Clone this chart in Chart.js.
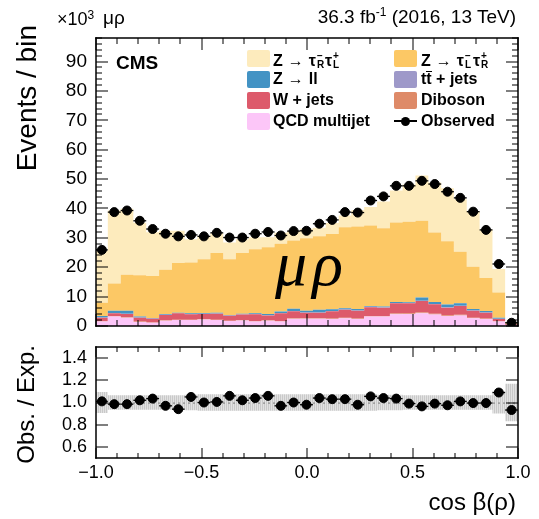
<!DOCTYPE html>
<html>
<head>
<meta charset="utf-8">
<script src="https://cdn.jsdelivr.net/npm/chart.js@4.4.0/dist/chart.umd.min.js"></script>
<style>
  body { margin: 0; width: 539px; height: 519px; position: relative; background: #fff; overflow: hidden;
         font-family: "Liberation Sans", Arial, sans-serif; color: #000; }
  canvas { position: absolute; left: 0; }
  #main { top: 0; }
  #ratio { top: 340px; }
  .t { position: absolute; white-space: nowrap; line-height: 1; }
  .vt { position: absolute; white-space: nowrap; line-height: 1; writing-mode: vertical-rl; transform: rotate(180deg); }
  .box { position: absolute; width: 23px; height: 17px; border-radius: 2px; }
  .lab { position: absolute; white-space: nowrap; font-weight: bold; font-size: 16px; line-height: 16px; }
  .ss { display: inline-block; position: relative; width: 9px; height: 16px; }
  .ss span { position: absolute; left: 1px; font-size: 10px; line-height: 10px; }
  .ss .sp { top: 1px; }
  .ss .sb { top: 10px; }
  .arr { font-weight: normal; margin: 0 5px; }
  .bar { position: relative; }
  .bar i { position: absolute; left: 0; right: 0; top: 1px; border-top: 1.5px solid #000; }
</style>
</head>
<body>
<canvas id="main" width="539" height="340"></canvas>
<canvas id="ratio" width="539" height="179"></canvas>

<div class="t" style="left:57px;top:9px;font-size:18px">×10<sup style="font-size:12px;vertical-align:6px">3</sup></div>
<div class="t" style="left:103px;top:8px;font-size:19px">μρ</div>
<div class="t" style="right:23px;top:6px;font-size:19px">36.3 fb<sup style="font-size:12px;vertical-align:7px">-1</sup> (2016, 13 TeV)</div>
<div class="t" style="left:116px;top:53px;font-size:19px;font-weight:bold">CMS</div>
<div class="t" style="left:275px;top:232px;font-size:64px;font-style:italic;letter-spacing:5px;font-family:'Liberation Serif',serif">μρ</div>
<div class="vt" style="left:13px;top:25px;font-size:28px">Events / bin</div>
<div class="vt" style="left:14px;top:345px;font-size:24px">Obs. / Exp.</div>
<div class="t" style="right:23px;top:490px;font-size:24px">cos β(ρ)</div>

<div id="legend"></div>

<script>
// bin edges of cos beta(rho)
const edges = [-1, -0.944, -0.883, -0.823, -0.762, -0.701, -0.640, -0.580, -0.519, -0.458, -0.397,
  -0.337, -0.276, -0.215, -0.154, -0.094, -0.033, 0.028, 0.089, 0.150, 0.210, 0.271, 0.332,
  0.393, 0.453, 0.514, 0.575, 0.636, 0.696, 0.757, 0.818, 0.879, 0.939, 1.0]

// events per bin, in units of 10^3
const qcd = [1.5, 3.2, 2.8, 1.4, 1.1, 1.8, 2.0, 2.0, 2.2, 2.0, 1.7, 1.9, 1.5, 1.8, 1.5, 2.5, 2.5,
  2.5, 2.4, 2.6, 2.4, 3.2, 3.2, 4.0, 4.1, 4.3, 3.9, 3.4, 3.6, 2.6, 2.4, 1.5, 0.3]
const diboson = [0.1, 0.15, 0.15, 0.1, 0.1, 0.12, 0.15, 0.15, 0.15, 0.15, 0.12, 0.14, 0.15, 0.14,
  0.15, 0.18, 0.17, 0.17, 0.18, 0.2, 0.19, 0.22, 0.22, 0.26, 0.26, 0.28, 0.25, 0.22, 0.23, 0.18,
  0.16, 0.1, 0.02]
const wjets = [1.2, 0.95, 1.15, 1.3, 1.3, 1.83, 2.15, 1.85, 1.75, 2.05, 1.68, 1.86, 2.35, 1.66,
  2.65, 2.32, 1.83, 1.83, 2.42, 2.7, 2.61, 2.98, 2.83, 3.44, 3.34, 3.92, 3.25, 2.63, 2.97, 2.42,
  1.94, 0.8, 0.28]
const ttbar = [0.05, 0.08, 0.08, 0.06, 0.05, 0.07, 0.08, 0.08, 0.08, 0.08, 0.07, 0.08, 0.08, 0.08,
  0.09, 0.1, 0.09, 0.09, 0.1, 0.1, 0.1, 0.11, 0.11, 0.12, 0.12, 0.13, 0.12, 0.11, 0.11, 0.09,
  0.08, 0.05, 0.01]
const zll = [0.55, 0.82, 1.02, 0.34, 0.15, 0.28, 0.12, 0.22, 0.22, 0.22, 0.18, 0.22, 0.22, 0.42,
  0.51, 0.8, 0.61, 0.91, 0.6, 0.4, 0.5, 0.29, 0.24, 0.38, 0.28, 1.07, 0.68, 0.94, 0.79, 0.51,
  0.52, 0.35, 0.09]
const ztauLR = [4.55, 9.3, 12.2, 14.1, 14.3, 15.0, 16.9, 17.3, 18.3, 20.3, 18.95, 20.6, 21.8, 22.7,
  23.1, 23.2, 24.7, 25.0, 25.6, 27.6, 28.1, 27.4, 26.7, 27.0, 27.4, 26.1, 23.6, 21.5, 17.6, 14.4,
  11.2, 8.6, 0.2]
const ztauRL = [17.69, 24.84, 22.5, 17.8, 14.88, 13.27, 11.05, 7.92, 7.8, 6.74, 5.7, 4.71, 4.09,
  3.39, 3.75, 3.2, 3.16, 2.96, 3.75, 4.02, 5.49, 6.27, 9.1, 10.89, 12.68, 15.39, 16.99, 18.07,
  17.87, 18.9, 16.56, 7.96, 0.28]
const observed = [25.9, 38.75, 39.3, 35.8, 33.0, 31.4, 30.5, 31.0, 30.5, 31.7, 30.1, 30.1, 31.4,
  32.0, 30.8, 32.3, 32.4, 34.8, 36.1, 38.75, 38.6, 42.7, 44.1, 47.7, 47.7, 49.4, 48.3, 45.7, 43.6,
  38.9, 32.7, 21.1, 1.1]
// relative uncertainty of the expectation (ratio band)
const bandErr = [0.095, 0.065, 0.065, 0.065, 0.065, 0.065, 0.065, 0.07, 0.075, 0.075, 0.075, 0.075,
  0.075, 0.075, 0.075, 0.075, 0.075, 0.075, 0.075, 0.075, 0.075, 0.075, 0.07, 0.07, 0.065, 0.065,
  0.065, 0.065, 0.065, 0.065, 0.065, 0.1, 0.17]

// axis ticks
const xLabels = [-1, -0.5, 0, 0.5, 1]
const yLabels = [0, 10, 20, 30, 40, 50, 60, 70, 80, 90]
const rLabels = [0.6, 0.8, 1.0, 1.2, 1.4]

const FONT = '"Liberation Sans", Arial, sans-serif'

// stack order, bottom to top
const stack = [
  { label: 'QCD multijet', values: qcd, color: '#fcc6f8' },
  { label: 'Diboson', values: diboson, color: '#de8a68' },
  { label: 'W + jets', values: wjets, color: '#dd5a6b' },
  { label: 'tt + jets', values: ttbar, color: '#9e99c9' },
  { label: 'Z -> ll', values: zll, color: '#4393c4' },
  { label: 'Z -> tauL tauR', values: ztauLR, color: '#fcc865' },
  { label: 'Z -> tauR tauL', values: ztauRL, color: '#fdebbd' }
]

const nBins = observed.length
const centers = observed.map((v, i) => (edges[i] + edges[i + 1]) / 2)
const total = observed.map((v, i) => stack.reduce((s, c) => s + c.values[i], 0))
const ratio = observed.map((v, i) => v / total[i])
const obsErr = observed.map(v => Math.sqrt(v * 1000) / 1000)
const ratioErr = obsErr.map((e, i) => e / total[i])

// histogram outline as points on the edges, drawn with stepped lines
function histPoints(vals) {
  return edges.map((e, i) => ({ x: e, y: vals[Math.min(i, nBins - 1)] }))
}

function minorTicks(min, max, step, skip) {
  const out = []
  for (let v = min; v <= max + 1e-9; v += step) {
    const r = Math.round(v * 1000) / 1000
    if (!skip.some(s => Math.abs(s - r) < 1e-6)) out.push(r)
  }
  return out
}

// error bars, a dashed reference line, inward ROOT style ticks and the frame.
// everything is filled as thin rectangles placed through the chart scales.
function decorations(cfg) {
  const hLine = (ctx, x0, x1, py, w) => ctx.fillRect(Math.min(x0, x1), py - w / 2, Math.abs(x1 - x0), w)
  const vLine = (ctx, px, y0, y1, w) => ctx.fillRect(px - w / 2, Math.min(y0, y1), w, Math.abs(y1 - y0))
  return {
    id: 'decorations',
    afterDatasetDraw(chart, args) {
      if (cfg.unity === undefined || args.index !== cfg.unityAfter) return
      const { ctx, chartArea: a } = chart
      const py = Math.round(chart.scales.y.getPixelForValue(cfg.unity))
      ctx.save()
      ctx.fillStyle = '#8c8c8c'
      for (let px = a.left + 2; px < a.right - 2; px += 5) ctx.fillRect(px, py - 0.5, 2, 1.2)
      ctx.restore()
    },
    afterDatasetsDraw(chart) {
      const { ctx, chartArea: a } = chart
      const x = chart.scales.x
      const y = chart.scales.y
      ctx.save()
      ctx.fillStyle = '#000'
      cfg.values.forEach((v, i) => {
        const py = y.getPixelForValue(v)
        hLine(ctx, x.getPixelForValue(edges[i]), x.getPixelForValue(edges[i + 1]), py, 1.3)
        vLine(ctx, x.getPixelForValue(centers[i]), y.getPixelForValue(v - cfg.errors[i]),
          y.getPixelForValue(v + cfg.errors[i]), 1.3)
      })
      const xt = (list, len) => list.forEach(v => {
        const p = Math.round(x.getPixelForValue(v))
        ctx.fillRect(p - 0.5, a.bottom - len, 1, len)
        ctx.fillRect(p - 0.5, a.top, 1, len)
      })
      const yt = (list, len) => list.forEach(v => {
        const p = Math.round(y.getPixelForValue(v))
        ctx.fillRect(a.left, p - 0.5, len, 1)
        ctx.fillRect(a.right - len, p - 0.5, len, 1)
      })
      xt(cfg.xMajor, cfg.xMajorLen)
      xt(cfg.xMinor, cfg.xMinorLen)
      yt(cfg.yMajor, cfg.yMajorLen)
      yt(cfg.yMinor, cfg.yMinorLen)
      const w = 1.5
      ctx.fillRect(a.left - w / 2, a.top - w / 2, a.right - a.left + w, w)
      ctx.fillRect(a.left - w / 2, a.bottom - w / 2, a.right - a.left + w, w)
      ctx.fillRect(a.left - w / 2, a.top - w / 2, w, a.bottom - a.top + w)
      ctx.fillRect(a.right - w / 2, a.top - w / 2, w, a.bottom - a.top + w)
      ctx.restore()
    }
  }
}

// keep the plot frame exactly where the layout padding puts it
function fixSize(s, size) {
  if (s.isHorizontal()) s.height = size
  else s.width = size
  s.paddingTop = s.paddingBottom = s.paddingLeft = s.paddingRight = 0
}

const xMinor = minorTicks(-1, 1, 0.1, xLabels)

// cumulative stack for the filled histogram
let running = new Array(nBins).fill(0)
const stackSets = stack.map((c, k) => {
  running = running.map((r, i) => r + c.values[i])
  return {
    label: c.label,
    data: histPoints(running),
    stepped: 'before',
    borderColor: 'rgba(0,0,0,0)',
    borderWidth: 0,
    backgroundColor: c.color,
    fill: k === 0 ? 'origin' : '-1',
    pointRadius: 0,
    order: 2
  }
})

new Chart(document.getElementById('main'), {
  type: 'line',
  data: {
    datasets: [
      ...stackSets,
      {
        label: 'Observed',
        data: centers.map((c, i) => ({ x: c, y: observed[i] })),
        showLine: false,
        pointRadius: 4.5,
        pointBackgroundColor: '#000',
        pointBorderColor: '#000',
        order: 0
      }
    ]
  },
  plugins: [
    decorations({
      values: observed, errors: obsErr,
      xMajor: xLabels, xMinor: xMinor, xMajorLen: 12, xMinorLen: 6,
      yMajor: yLabels, yMinor: minorTicks(0, 98, 2, yLabels), yMajorLen: 12, yMinorLen: 6
    })
  ],
  options: {
    responsive: false,
    animation: false,
    layout: { autoPadding: false, padding: { top: 38, right: 21, bottom: 14, left: 0 } },
    plugins: { legend: { display: false }, tooltip: { enabled: false } },
    scales: {
      x: { type: 'linear', min: -1, max: 1, display: false },
      y: {
        min: 0,
        max: 98,
        afterFit: (s) => fixSize(s, 96),
        afterBuildTicks: (s) => { s.ticks = yLabels.map(v => ({ value: v })) },
        grid: { display: false, drawTicks: false },
        border: { display: false },
        ticks: { padding: 9, color: '#000', font: { family: FONT, size: 19 } }
      }
    }
  }
})

// striped grey fill for the uncertainty band
const pat = document.createElement('canvas')
pat.width = 2
pat.height = 2
const pctx = pat.getContext('2d')
pctx.fillStyle = '#e2e2e2'
pctx.fillRect(0, 0, 2, 2)
pctx.fillStyle = '#c9c9c9'
pctx.fillRect(0, 0, 1, 2)
const bandFill = pctx.createPattern(pat, 'repeat')

new Chart(document.getElementById('ratio'), {
  type: 'line',
  data: {
    datasets: [
      {
        label: 'band low',
        data: histPoints(bandErr.map(e => 1 - e)),
        stepped: 'before',
        borderColor: 'rgba(0,0,0,0)',
        pointRadius: 0,
        fill: false,
        order: 3
      },
      {
        label: 'band high',
        data: histPoints(bandErr.map(e => 1 + e)),
        stepped: 'before',
        borderColor: 'rgba(0,0,0,0)',
        backgroundColor: bandFill,
        pointRadius: 0,
        fill: '-1',
        order: 2
      },
      {
        label: 'Obs. / Exp.',
        data: centers.map((c, i) => ({ x: c, y: ratio[i] })),
        showLine: false,
        pointRadius: 4.5,
        pointBackgroundColor: '#000',
        pointBorderColor: '#000',
        order: 0
      }
    ]
  },
  plugins: [
    decorations({
      values: ratio, errors: ratioErr, unity: 1, unityAfter: 1,
      xMajor: xLabels, xMinor: xMinor, xMajorLen: 10, xMinorLen: 5,
      yMajor: rLabels, yMinor: [], yMajorLen: 12, yMinorLen: 6
    })
  ],
  options: {
    responsive: false,
    animation: false,
    layout: { autoPadding: false, padding: { top: 7, right: 21, bottom: 0, left: 0 } },
    plugins: { legend: { display: false }, tooltip: { enabled: false } },
    scales: {
      x: {
        type: 'linear',
        min: -1,
        max: 1,
        afterFit: (s) => fixSize(s, 61),
        afterBuildTicks: (s) => { s.ticks = xLabels.map(v => ({ value: v })) },
        grid: { display: false, drawTicks: false },
        border: { display: false },
        ticks: {
          padding: 4,
          maxRotation: 0,
          autoSkip: false,
          color: '#000',
          font: { family: FONT, size: 18 },
          callback: (v) => (v < 0 ? '\u2212' : '') + Math.abs(v).toFixed(1)
        }
      },
      y: {
        min: 0.5,
        max: 1.5,
        afterFit: (s) => fixSize(s, 96),
        afterBuildTicks: (s) => { s.ticks = rLabels.map(v => ({ value: v })) },
        grid: { display: false, drawTicks: false },
        border: { display: false },
        ticks: { padding: 9, color: '#000', font: { family: FONT, size: 18 }, callback: (v) => v.toFixed(1) }
      }
    }
  }
})

// legend, two columns in the ROOT style
const tauRL = 'Z<span class="arr">→</span>τ<span class="ss"><span class="sp">−</span><span class="sb">R</span></span>τ<span class="ss"><span class="sp">+</span><span class="sb">L</span></span>'
const tauLR = 'Z<span class="arr">→</span>τ<span class="ss"><span class="sp">−</span><span class="sb">L</span></span>τ<span class="ss"><span class="sp">+</span><span class="sb">R</span></span>'
const legendItems = [
  { html: tauRL, color: '#fdebbd', col: 0, row: 0 },
  { html: tauLR, color: '#fcc865', col: 1, row: 0 },
  { html: 'Z<span class="arr">→</span>ll', color: '#4393c4', col: 0, row: 1 },
  { html: 't<span class="bar">t<i></i></span> + jets', color: '#9e99c9', col: 1, row: 1 },
  { html: 'W + jets', color: '#dd5a6b', col: 0, row: 2 },
  { html: 'Diboson', color: '#de8a68', col: 1, row: 2 },
  { html: 'QCD multijet', color: '#fcc6f8', col: 0, row: 3 },
  { html: 'Observed', color: null, col: 1, row: 3 }
]
const legend = document.getElementById('legend')
legendItems.forEach(it => {
  const boxX = it.col === 0 ? 247 : 394
  const textX = it.col === 0 ? 273 : 421
  const cy = 58 + it.row * 21
  if (it.color) {
    legend.insertAdjacentHTML('beforeend',
      `<div class="box" style="left:${boxX}px;top:${cy - 8.5}px;background:${it.color}"></div>`)
  } else {
    legend.insertAdjacentHTML('beforeend',
      `<div style="position:absolute;left:${boxX}px;top:${cy - 0.75}px;width:23px;height:1.5px;background:#000"></div>` +
      `<div style="position:absolute;left:${boxX + 7}px;top:${cy - 4.5}px;width:9px;height:9px;border-radius:50%;background:#000"></div>`)
  }
  legend.insertAdjacentHTML('beforeend',
    `<div class="lab" style="left:${textX}px;top:${cy - 8}px">${it.html}</div>`)
})
</script>
</body>
</html>
